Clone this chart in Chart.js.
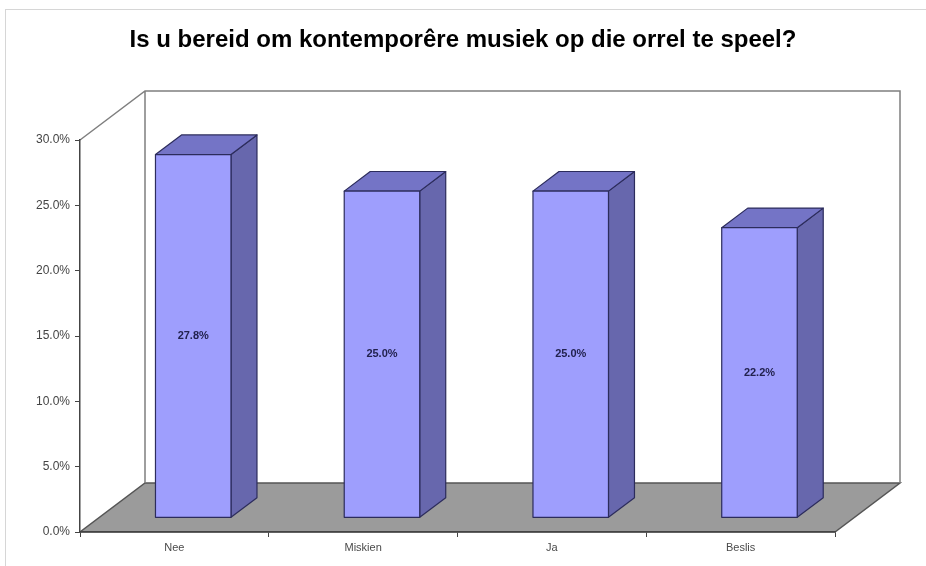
<!DOCTYPE html>
<html>
<head>
<meta charset="utf-8">
<script src="https://cdn.jsdelivr.net/npm/chart.js@4"></script>
<style>
  html, body { margin: 0; padding: 0; background: #ffffff; }
  #wrap { width: 926px; height: 566px; }
</style>
</head>
<body>
<div id="wrap"><canvas id="orrelChart" width="926" height="566"></canvas></div>
<script>
// Data
const titel = 'Is u bereid om kontemporêre musiek op die orrel te speel?';
const kategoriee = ['Nee', 'Miskien', 'Ja', 'Beslis'];
const persentasies = [27.8, 25.0, 25.0, 22.2];
const yMaks = 30;
const yStap = 5;

// 3D look (pixels)
const diepte = { x: 65, y: 49 };   // depth of floor / walls
const balkVoor = 0.29;               // front of bar, as part of depth
const balkDiep = 0.40;               // bar thickness, as part of depth

const kleure = {
    voor: '#9e9efd',
    bo: '#7474c6',
    kant: '#6767ad',
    rand: '#2c2c5c',
    vloer: '#9b9b9b',
    muur: '#7f7f7f'
};

const lettertipe = '"Liberation Sans", Arial, sans-serif';

const driedPlugin = {
    id: 'drieD',
    beforeDraw(chart) {
        const ctx = chart.ctx;
        const a = chart.chartArea;
        const dx = diepte.x, dy = diepte.y;
        ctx.save();
        // outer frame of the picture
        ctx.strokeStyle = '#d6d6d6';
        ctx.lineWidth = 1;
        ctx.strokeRect(5.5, 9.5, 1000, 700);

        // floor
        ctx.beginPath();
        ctx.moveTo(a.left, a.bottom);
        ctx.lineTo(a.right, a.bottom);
        ctx.lineTo(a.right + dx, a.bottom - dy);
        ctx.lineTo(a.left + dx, a.bottom - dy);
        ctx.closePath();
        ctx.fillStyle = kleure.vloer;
        ctx.fill();
        ctx.strokeStyle = '#555555';
        ctx.lineWidth = 1.5;
        ctx.stroke();

        // back wall and left wall outlines
        ctx.strokeStyle = kleure.muur;
        ctx.lineWidth = 1.5;
        ctx.beginPath();
        ctx.moveTo(a.left, a.top);
        ctx.lineTo(a.left + dx, a.top - dy);
        ctx.lineTo(a.right + dx, a.top - dy);
        ctx.lineTo(a.right + dx, a.bottom - dy);
        ctx.moveTo(a.left + dx, a.top - dy);
        ctx.lineTo(a.left + dx, a.bottom - dy);
        ctx.stroke();
        ctx.restore();
    },
    afterDatasetsDraw(chart) {
        const ctx = chart.ctx;
        const meta = chart.getDatasetMeta(0);
        const ox = diepte.x * balkVoor, oy = diepte.y * balkVoor;
        const sx = diepte.x * balkDiep, sy = diepte.y * balkDiep;
        ctx.save();
        ctx.lineJoin = 'round';
        ctx.lineWidth = 1.2;
        ctx.strokeStyle = kleure.rand;
        meta.data.forEach(function (bar, i) {
            const l = bar.x - bar.width / 2 + ox;
            const r = bar.x + bar.width / 2 + ox;
            const t = bar.y - oy;
            const b = bar.base - oy;

            // side
            ctx.beginPath();
            ctx.moveTo(r, t);
            ctx.lineTo(r + sx, t - sy);
            ctx.lineTo(r + sx, b - sy);
            ctx.lineTo(r, b);
            ctx.closePath();
            ctx.fillStyle = kleure.kant;
            ctx.fill();
            ctx.stroke();

            // top
            ctx.beginPath();
            ctx.moveTo(l, t);
            ctx.lineTo(l + sx, t - sy);
            ctx.lineTo(r + sx, t - sy);
            ctx.lineTo(r, t);
            ctx.closePath();
            ctx.fillStyle = kleure.bo;
            ctx.fill();
            ctx.stroke();

            // front
            ctx.beginPath();
            ctx.rect(l, t, r - l, b - t);
            ctx.fillStyle = kleure.voor;
            ctx.fill();
            ctx.stroke();

            // value label
            ctx.fillStyle = '#22224e';
            ctx.font = 'bold 11px ' + lettertipe;
            ctx.textAlign = 'center';
            ctx.textBaseline = 'middle';
            ctx.fillText(persentasies[i].toFixed(1) + '%', (l + r) / 2, (t + b) / 2);
        });
        ctx.restore();
    }
};

new Chart(document.getElementById('orrelChart'), {
    type: 'bar',
    data: {
        labels: kategoriee,
        datasets: [{
            data: persentasies,
            backgroundColor: 'rgba(0,0,0,0)',
            borderWidth: 0,
            categoryPercentage: 1.0,
            barPercentage: 0.4
        }]
    },
    options: {
        responsive: false,
        animation: false,
        events: [],
        layout: { padding: 0 },
        plugins: {
            legend: { display: false },
            tooltip: { enabled: false },
            title: {
                display: true,
                text: titel,
                color: '#000000',
                font: { family: lettertipe, size: 24, weight: 'bold' },
                padding: { top: 26, bottom: 85.2 }
            }
        },
        scales: {
            x: {
                grid: { display: true, drawOnChartArea: false, drawTicks: true, tickLength: 5, color: '#444444', offset: true },
                border: { display: true, color: '#444444', width: 1.5 },
                ticks: {
                    color: '#4a4a4a',
                    padding: 4,
                    font: { family: lettertipe, size: 11 }
                },
                afterFit(scale) { scale.height = 34; }
            },
            y: {
                min: 0,
                max: yMaks,
                grid: { display: true, drawOnChartArea: false, drawTicks: true, tickLength: 5, color: '#444444' },
                border: { display: true, color: '#444444', width: 1.5 },
                ticks: {
                    stepSize: yStap,
                    color: '#444444',
                    padding: 5,
                    font: { family: lettertipe, size: 12 },
                    callback: function (v) { return v.toFixed(1) + '%'; }
                },
                afterFit(scale) { scale.width = 80; }
            },
            // empty space to the right of the plot, where the 3D depth goes
            regs: {
                type: 'linear',
                position: 'right',
                display: true,
                grid: { display: false },
                border: { display: false },
                ticks: { display: false },
                afterFit(scale) { scale.width = 91; }
            }
        }
    },
    plugins: [driedPlugin]
});
</script>
</body>
</html>
